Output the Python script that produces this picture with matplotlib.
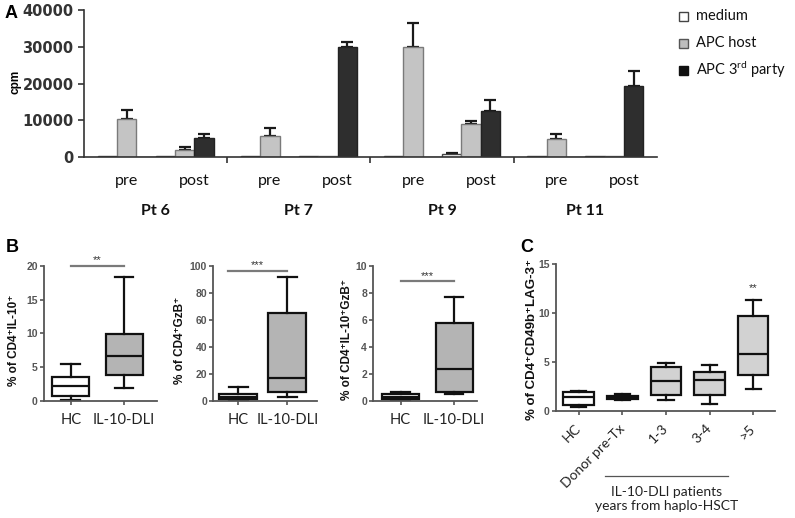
import matplotlib
matplotlib.use('Agg')
import matplotlib.pyplot as plt
import matplotlib.transforms as mtransforms
from matplotlib.patches import Rectangle
from matplotlib.lines import Line2D
import numpy as np

plt.rcParams['mathtext.fontset'] = 'custom'
plt.rcParams['mathtext.rm'] = 'Lato'
plt.rcParams['mathtext.it'] = 'Lato:italic'
plt.rcParams['mathtext.bf'] = 'Lato:bold'

# ---------------- data ----------------
patients = ['Pt 6', 'Pt 7', 'Pt 9', 'Pt 11']
timepoints = ['pre', 'post']
conditions = ['medium', 'APC host', 'APC 3$^{\\mathrm{rd}}$ party']
# order: Pt6 pre, Pt6 post, Pt7 pre, Pt7 post, Pt9 pre, Pt9 post, Pt11 pre, Pt11 post
medium_cpm = [300, 200, 300, 300, 300, 900, 200, 200]
medium_err = [0, 0, 0, 0, 0, 300, 0, 0]
host_cpm = [10300, 1900, 5800, 300, 30000, 9000, 4900, 300]
host_err = [2500, 900, 2200, 0, 6500, 800, 1300, 0]
third_cpm = [0, 5250, 0, 30000, 0, 12500, 0, 19300]
third_err = [0, 950, 0, 1200, 0, 3000, 0, 4100]
a_yticks = [0, 10000, 20000, 30000, 40000]

groups_b = ['HC', 'IL-10-DLI']
# each: [whislo, q1, med, q3, whishi]
b1_hc = [0.1, 0.72, 2.25, 3.47, 5.4]
b1_dli = [1.95, 3.86, 6.7, 9.86, 18.3]
b2_hc = [0.3, 1.3, 3.0, 4.7, 10.3]
b2_dli = [2.5, 6.7, 16.5, 64.7, 91.9]
b3_hc = [0.05, 0.15, 0.3, 0.47, 0.62]
b3_dli = [0.5, 0.67, 2.32, 5.73, 7.7]
b_ylabels = ['% of CD4\u207aIL-10\u207a', '% of CD4\u207aGzB\u207a',
             '% of CD4\u207aIL-10\u207aGzB\u207a']
b_stars = ['**', '***', '***']

groups_c = ['HC', 'Donor pre-Tx', '1-3', '3-4', '>5']
c_stats = [[0.45, 0.62, 1.45, 1.95, 2.05],
           [1.1, 1.25, 1.4, 1.5, 1.7],
           [1.12, 1.66, 3.05, 4.45, 4.87],
           [0.7, 1.63, 3.15, 3.98, 4.72],
           [2.2, 3.68, 5.85, 9.7, 11.35]]
c_ylabel = '% of CD4\u207aCD49b\u207aLAG-3\u207a'

W, H = 795, 518
fig = plt.figure(figsize=(W / 100, H / 100), dpi=100)


def rect(l, t, r, b):
    return [l / W, 1 - b / H, (r - l) / W, (b - t) / H]


# ---------------- Panel A ----------------
axA = fig.add_axes(rect(84, 10, 657, 157))
w = 0.135
cols = ['white', '#c4c4c4', '#2e2e2e']
edges = ['#444444', '#7a7a7a', '#222222']
series = [(medium_cpm, medium_err), (host_cpm, host_err), (third_cpm, third_err)]
for c, (vals, errs) in enumerate(series):
    xs, ys, es = [], [], []
    for i, v in enumerate(vals):
        k, j = divmod(i, 2)
        x = k + 0.5 + (j * 3 + c - 2.5) * w
        xs.append(x)
        ys.append(v)
        es.append(errs[i])
    axA.bar(xs, ys, width=w, color=cols[c], edgecolor=edges[c], linewidth=1.0, zorder=2)
    xs_e = [x for x, e in zip(xs, es) if e > 0]
    ys_e = [y for y, e in zip(ys, es) if e > 0]
    es_e = [e for e in es if e > 0]
    axA.errorbar(xs_e, ys_e, yerr=[np.zeros(len(es_e)), es_e], fmt='none',
                 ecolor='#1a1a1a', elinewidth=1.6, capsize=4.5, capthick=1.6, zorder=1)
axA.set_xlim(0, 4)
axA.set_ylim(0, 40000)
axA.set_yticks(a_yticks)
axA.set_yticklabels([str(v) for v in a_yticks], fontsize=10.5, family='DejaVu Sans',
                    weight='bold', color='#333333')
axA.set_xticks([1, 2, 3])
axA.set_xticklabels([])
for s in ['top', 'right']:
    axA.spines[s].set_visible(False)
for s in ['left', 'bottom']:
    axA.spines[s].set_color('#333333')
    axA.spines[s].set_linewidth(1.2)
axA.tick_params(axis='both', length=4, width=1.2, color='#333333')
trA = mtransforms.blended_transform_factory(axA.transData, fig.transFigure)
for k, p in enumerate(patients):
    for j, t in enumerate(timepoints):
        xc = k + 0.5 + (j * 3 - 1.0) * w - (0.5 * w if j == 0 else 0)
        axA.text(xc, 1 - 185 / H, t, transform=trA, ha='center', va='baseline',
                 fontsize=11.5, family='Lato', color='#111111')
    axA.text(k + 0.5, 1 - 215 / H, p, transform=trA, ha='center', va='baseline',
             fontsize=11.5, family='Lato', weight='bold', color='#111111')
fig.text(16 / W, 1 - 82 / H, 'cpm', rotation=90, ha='center', va='center',
         fontsize=8.5, family='Liberation Sans', weight='bold')

# legend (manual)
leg_fc = ['white', '#bdbdbd', '#111111']
leg_ec = ['#444444', '#555555', '#111111']
for i, lab in enumerate(conditions):
    yc = [16, 43, 70][i]
    fig.patches.append(Rectangle(((679) / W, 1 - (yc + 4.5) / H), 9 / W, 9 / H,
                                 transform=fig.transFigure, facecolor=leg_fc[i],
                                 edgecolor=leg_ec[i], linewidth=1.0))
    fig.text(696 / W, 1 - yc / H, lab, ha='left', va='center', fontsize=10.5,
             family='Lato', color='#111111')

fig.text(11 / W, 1 - 14 / H, 'A', ha='center', va='center', fontsize=13,
         family='Liberation Sans', weight='bold')
fig.text(12.5 / W, 1 - 247.5 / H, 'B', ha='center', va='center', fontsize=13,
         family='Liberation Sans', weight='bold')
fig.text(526.5 / W, 1 - 247.5 / H, 'C', ha='center', va='center', fontsize=13,
         family='Liberation Sans', weight='bold')


def make_stats(vals):
    return dict(whislo=vals[0], q1=vals[1], med=vals[2], q3=vals[3], whishi=vals[4],
                fliers=[])


def style_box_axes(ax):
    for s in ['top', 'right']:
        ax.spines[s].set_visible(False)
    for s in ['left', 'bottom']:
        ax.spines[s].set_color('#555555')
        ax.spines[s].set_linewidth(1.3)
    ax.tick_params(axis='y', length=3, width=1.2, color='#555555', labelcolor='#555555',
                   pad=1.5)
    ax.tick_params(axis='x', length=3, width=1.2, color='#555555', pad=6)
    for lbl in ax.get_yticklabels():
        lbl.set_fontfamily(['Liberation Sans', 'DejaVu Sans'])
        lbl.set_fontweight('bold')
        lbl.set_fontsize(7.5)


def draw_boxes(ax, stats_list, positions, widths, fills):
    bp = ax.bxp([make_stats(s) for s in stats_list], positions=positions, widths=widths,
                patch_artist=True, showfliers=False,
                boxprops=dict(linewidth=1.6, edgecolor='#111111'),
                medianprops=dict(color='#111111', linewidth=1.6),
                whiskerprops=dict(color='#111111', linewidth=1.6),
                capprops=dict(color='#111111', linewidth=1.6))
    for patch, fc in zip(bp['boxes'], fills):
        patch.set_facecolor(fc)
    return bp


# ---------------- Panel B ----------------
b_specs = [
    (rect(44, 266, 156.7, 400.7), [b1_hc, b1_dli], (0.5, 2.61), 20, [0, 5, 10, 15, 20], 0.69,
     (1.0, 2.0, 20.0), 14),
    (rect(213.3, 265.7, 316.7, 400.7), [b2_hc, b2_dli], (0.49, 2.6), 100,
     [0, 20, 40, 60, 80, 100], 0.78, (0.78, 2.0, 96.3), 180),
    (rect(373.3, 265.7, 476.7, 400.7), [b3_hc, b3_dli], (0.49, 2.42), 10,
     [0, 2, 4, 6, 8, 10], 0.69, (1.0, 2.0, 8.84), 347),
]
for i, (r, data, xl, ymax, yt, bw, sig, ylx) in enumerate(b_specs):
    ax = fig.add_axes(r)
    draw_boxes(ax, data, [1, 2], bw, ['white', '#b4b4b4'])
    ax.set_xlim(*xl)
    ax.set_ylim(0, ymax)
    ax.set_yticks(yt)
    ax.set_xticks([1, 2])
    ax.set_xticklabels(groups_b, fontsize=10.5, family='Lato', color='#222222')
    style_box_axes(ax)
    x1, x2, ys = sig
    ax.plot([x1, x2], [ys, ys], color='#7a7a7a', lw=1.6, clip_on=False)
    ax.annotate(b_stars[i], xy=((x1 + x2) / 2, ys), xytext=(0, 0.5),
                textcoords='offset points', ha='center', va='bottom', fontsize=8,
                family='Liberation Sans', color='#333333', annotation_clip=False)
    fig.text(ylx / W, 1 - 340 / H, b_ylabels[i], rotation=90, ha='center', va='center',
             fontsize=8.5, family=['Liberation Sans', 'DejaVu Sans'], weight='bold',
             color='#111111')

# ---------------- Panel C ----------------
axC = fig.add_axes(rect(556, 264, 775, 411))
posC = list(range(1, len(groups_c) + 1))
draw_boxes(axC, c_stats, posC, 0.7, ['white', 'white', '#d2d2d2', '#d2d2d2', '#d2d2d2'])
axC.set_xlim(0.48, 5.5)
axC.set_ylim(0, 15)
axC.set_yticks([0, 5, 10, 15])
axC.set_xticks(posC)
axC.set_xticklabels(groups_c, fontsize=10, family='Lato', color='#222222',
                    rotation=45, ha='right', va='center', rotation_mode='anchor')
style_box_axes(axC)
axC.tick_params(axis='x', pad=8)
axC.annotate('**', xy=(5, c_stats[4][4]), xytext=(0, 5), textcoords='offset points',
             ha='center', va='bottom', fontsize=8, family='Liberation Sans',
             color='#333333')
fig.text(532 / W, 1 - 340 / H, c_ylabel, rotation=90, ha='center', va='center',
         fontsize=9.5, family=['Liberation Sans', 'DejaVu Sans'], weight='bold',
         color='#111111')
fig.add_artist(Line2D([605 / W, 728 / W], [1 - 476 / H, 1 - 476 / H],
                      transform=fig.transFigure, color='#555555', lw=0.9))
fig.text(667 / W, 1 - 491.5 / H, 'IL-10-DLI patients', ha='center', va='center',
         fontsize=10, family='Lato', color='#222222')
fig.text(667 / W, 1 - 506 / H, 'years from haplo-HSCT', ha='center', va='center',
         fontsize=10, family='Lato', color='#222222')

fig.savefig('out.png', dpi=100, facecolor='white')
